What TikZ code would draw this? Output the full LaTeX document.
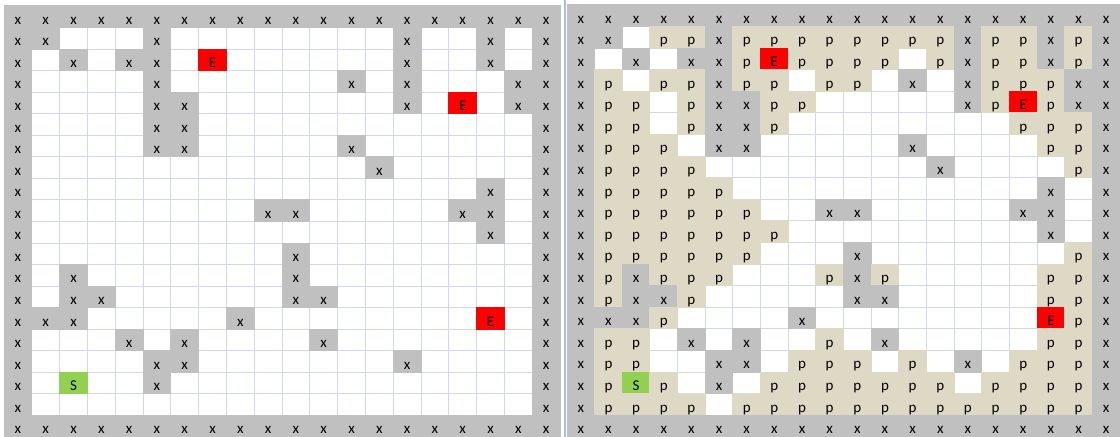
\documentclass[tikz,border=0pt]{standalone}
\usepackage{fontspec}
\setmainfont{Carlito}
\definecolor{obst}{HTML}{C0C0C0}
\definecolor{pathc}{HTML}{DDD9C4}
\definecolor{gridl}{HTML}{D0D7E5}
\definecolor{startg}{HTML}{92D050}
\definecolor{endr}{HTML}{FF0000}
\definecolor{sepl}{HTML}{A9C0DF}
\newcount\rowc
\newcount\colc
\def\gp{L}\def\gx{4}\def\gy{6}\def\gw{27.8}\def\gh{21.55}
\def\placecell#1{\if#1.\else\node[cell#1] (\gp\the\rowc-\the\colc) at ({\gx+(\the\colc+0.5)*\gw},{\gy+(\the\rowc+0.5)*\gh}) {#1};\fi}
\def\dorow#1{\ifx#1\relax\else\placecell{#1}\advance\colc by 1\relax\expandafter\dorow\fi}
\def\gridrow#1{\colc=0\relax\dorow#1\relax\advance\rowc by 1\relax}
\begin{document}
\begin{tikzpicture}[x=0.5pt,y=-0.5pt,
  cellbase/.style={inner sep=0pt,outer sep=0pt,minimum width=\gw*0.5pt+0.5pt,minimum height=\gh*0.5pt+0.5pt,font=\fontsize{7.5}{9}\selectfont,text height=1.75ex,text depth=0.17ex,text=black},
  cellx/.style={cellbase,fill=obst},
  cellp/.style={cellbase,fill=pathc},
  cellE/.style={cellbase,fill=endr},
  cellS/.style={cellbase,fill=startg},
  gridline/.style={draw=gridl,line width=0.5pt}]
\useasboundingbox (0,0) rectangle (1120,437);
\fill[white] (0,0) rectangle (1120,437);
% grid lines
\foreach \i in {0,...,20}{
  \draw[gridline] ({4+\i*27.8},6) -- ({4+\i*27.8},437);
  \draw[gridline] (4,{6+\i*21.55}) -- (560,{6+\i*21.55});
  \draw[gridline] ({567+\i*27.65},5) -- ({567+\i*27.65},437);
  \draw[gridline] (567,{5+\i*21.6}) -- (1120,{5+\i*21.6});
}
\draw[sepl,line width=0.6pt] (565,0) -- (565,437);
% left grid
\def\gp{L}\def\gx{4}\def\gy{6}\def\gw{27.8}\def\gh{21.55}
\rowc=0\relax
\gridrow{xxxxxxxxxxxxxxxxxxxx}
\gridrow{xx...x........x..x.x}
\gridrow{x.x.xx.E......x..x.x}
\gridrow{x....x......x.x...xx}
\gridrow{x....xx.......x.E.xx}
\gridrow{x....xx............x}
\gridrow{x....xx.....x......x}
\gridrow{x............x.....x}
\gridrow{x................x.x}
\gridrow{x........xx.....xx.x}
\gridrow{x................x.x}
\gridrow{x.........x........x}
\gridrow{x.x.......x........x}
\gridrow{x.xx......xx.......x}
\gridrow{xxx.....x........E.x}
\gridrow{x...x.x....x.......x}
\gridrow{x....xx.......x....x}
\gridrow{x.S..x.............x}
\gridrow{x..................x}
\gridrow{xxxxxxxxxxxxxxxxxxxx}
% right grid
\def\gp{R}\def\gx{567}\def\gy{5}\def\gw{27.65}\def\gh{21.6}
\rowc=0\relax
\gridrow{xxxxxxxxxxxxxxxxxxxx}
\gridrow{xx.ppxppppppppxppxpx}
\gridrow{x.x.xxpEpppp.pxppxpx}
\gridrow{xp.ppxpp.pp.x.xpppxx}
\gridrow{xpp.pxxpp.....xpEpxx}
\gridrow{xpp.pxxp........pppx}
\gridrow{xppp.xx.....x....ppx}
\gridrow{xpppp........x....px}
\gridrow{xppppp...........x.x}
\gridrow{xpppppp..xx.....xx.x}
\gridrow{xppppppp.........x.x}
\gridrow{xpppppp...x.......px}
\gridrow{xpxppp...pxp.....ppx}
\gridrow{xpxxp.....xx.....ppx}
\gridrow{xxxp....x........Epx}
\gridrow{xpp.x.x..p.x.....ppx}
\gridrow{xpp..xx.ppp.p.x.pppx}
\gridrow{xpSp.x.ppppppp.ppppx}
\gridrow{xpppp.pppppppppppppx}
\gridrow{xxxxxxxxxxxxxxxxxxxx}
\end{tikzpicture}
\end{document}
